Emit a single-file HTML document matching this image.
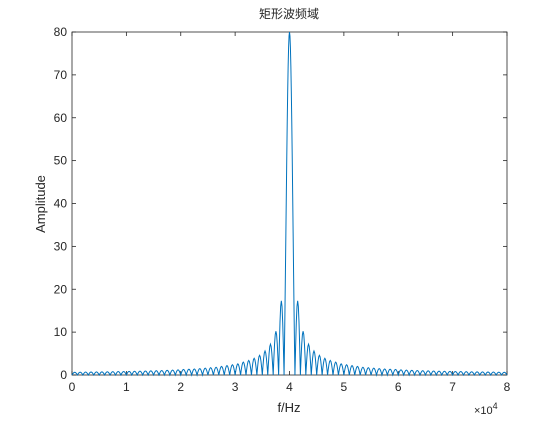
<!DOCTYPE html>
<html><head><meta charset="utf-8"><style>
body{margin:0;background:#fff}
svg{font-family:"Liberation Sans","Noto Sans CJK SC",sans-serif}
</style></head><body>
<svg width="560" height="420" xmlns="http://www.w3.org/2000/svg">
<rect width="560" height="420" fill="#fff"/>
<g id="axes"></g>
<path id="series" fill="none" stroke="#0072BD" stroke-width="1"/>
<text x="289" y="18" text-anchor="middle" font-size="12" fill="#262626">矩形波频域</text>
<text x="289" y="412" text-anchor="middle" font-size="13" fill="#262626">f/Hz</text>
<text transform="translate(45,204) rotate(-90)" text-anchor="middle" font-size="13" fill="#262626">Amplitude</text>
<text x="474" y="414" font-size="11" fill="#262626">×10<tspan dy="-5" font-size="9">4</tspan></text>
</svg>
<script>
const xTicks=[0,1,2,3,4,5,6,7,8];
const yTicks=[0,10,20,30,40,50,60,70,80];
const centerFreq=40000;
const lobeWidth=1000;
const mainPeak=80;
const sidePeaks=[17.3,10.2,7.2,5.6,4.6,3.9,3.4,3.0,2.6,2.4,2.2,2.0,1.8,1.7,1.6,1.5,1.4,1.35,1.3,1.2,1.15,1.1,1.05,1.0,0.97,0.93,0.9,0.87,0.85,0.82,0.8,0.78,0.75,0.73,0.71,0.7,0.68,0.66,0.64];
const L=72,R=507,T=32,B=375;
const xs=f=>L+(f/80000)*(R-L);
const ys=v=>B-(v/80)*(B-T);
const NS='http://www.w3.org/2000/svg';
const ax=document.getElementById('axes');
function mk(t,a,p){const e=document.createElementNS(NS,t);for(const k in a)e.setAttribute(k,a[k]);(p||ax).appendChild(e);return e;}
const box=mk('rect',{x:L,y:T,width:R-L,height:B-T,fill:'none',stroke:'#262626','stroke-width':0.8});


xTicks.forEach(t=>{const x=xs(t*10000);
 const l=mk('line',{x1:x,x2:x,y1:B,y2:B-4,stroke:'#262626','stroke-width':0.8});
 
 
 const l2=mk('line',{x1:x,x2:x,y1:T,y2:T+4,stroke:'#262626','stroke-width':0.8});
 
 
 const tx=mk('text',{x:x,y:B+16,'text-anchor':'middle','font-size':12,fill:'#262626'});tx.textContent=t;
 
 });
yTicks.forEach(t=>{const y=ys(t);
 const l=mk('line',{x1:L,x2:L+4,y1:y,y2:y,stroke:'#262626','stroke-width':0.8});
 
 
 const l2=mk('line',{x1:R,x2:R-4,y1:y,y2:y,stroke:'#262626','stroke-width':0.8});
 
 
 const tx=mk('text',{x:L-5,y:y+4,'text-anchor':'end','font-size':12,fill:'#262626'});tx.textContent=t;
 
 });
let pts=[];
function lobe(f0,f1,peak,main){const n=main?24:8;
 for(let i=0;i<=n;i++){const u=i/n;let s;
  if(main){const z=(u-0.5)*2*Math.PI;s=Math.abs(z)<1e-6?1:Math.sin(z)/z;} else s=Math.sin(Math.PI*u);
  pts.push([xs(f0+(f1-f0)*u),ys(peak*Math.abs(s))]);}}
for(let k=sidePeaks.length-1;k>=0;k--){const f0=centerFreq-(k+2)*lobeWidth;lobe(Math.max(0,f0),f0+lobeWidth,sidePeaks[k],false);}
lobe(centerFreq-lobeWidth,centerFreq+lobeWidth,mainPeak,true);
for(let k=0;k<sidePeaks.length;k++){const f0=centerFreq+(k+1)*lobeWidth;lobe(f0,Math.min(80000,f0+lobeWidth),sidePeaks[k],false);}
document.getElementById('series').setAttribute('d','M'+pts.map(p=>p[0].toFixed(2)+','+p[1].toFixed(2)).join('L'));
</script>
</body></html>
